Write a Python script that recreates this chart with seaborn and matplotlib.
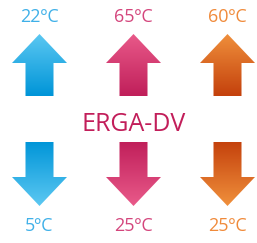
import numpy as np
import matplotlib.pyplot as plt
import seaborn as sns
from matplotlib.patches import Polygon
from matplotlib.colors import LinearSegmentedColormap

# data
circuits = ['cold', 'heating', 'hot water']
temp_out = [22, 65, 60]    # upper arrows
temp_in = [5, 25, 25]      # lower arrows
title = 'ERGA-DV'

# colours (light end, dark end) and text colour per circuit
grad = [('#5cc8f2', '#0095d8'), ('#e95a8a', '#c01f5a'), ('#f0903c', '#c4410c')]
text_col = ['#3fb0e8', '#d4457c', '#f08a3a']

sns.set_theme(style='white')
plt.rcParams['font.family'] = ['Open Sans', 'DejaVu Sans']

fig = plt.figure(figsize=(2.57, 2.43), dpi=100)
ax = fig.add_axes([0, 0, 1, 1])
ax.set_xlim(0, 257)
ax.set_ylim(243, 0)
ax.axis('off')

x0, dx = 39.5, 94
hw, sw = 27.5, 14  # head half width, shaft half width


def arrow(cx, tip, base, end, c_light, c_dark):
    pts = [(cx, tip), (cx + hw, base), (cx + sw, base), (cx + sw, end),
           (cx - sw, end), (cx - sw, base), (cx - hw, base)]
    poly = Polygon(pts, closed=True, facecolor='none', edgecolor='none')
    ax.add_patch(poly)
    cmap = LinearSegmentedColormap.from_list('g', [c_light, c_dark])
    lo, hi = min(tip, end), max(tip, end)
    g = np.linspace(0, 1, 100).reshape(-1, 1)
    if tip > end:
        g = g[::-1]
    im = ax.imshow(g, cmap=cmap, extent=(cx - hw, cx + hw, hi, lo),
                   aspect='auto', interpolation='bilinear')
    im.set_clip_path(poly)


for i in range(len(circuits)):
    cx = x0 + i * dx
    cl, cd = grad[i]
    # upper arrow: light at tip
    arrow(cx, 34, 63, 96, cl, cd)
    # lower arrow: dark at top, light at tip
    arrow(cx, 206, 177, 142, cl, cd)
    ax.text(cx, 17, f'{temp_out[i]}ºC', color=text_col[i], fontsize=13,
            ha='center', va='center')
    ax.text(cx, 226, f'{temp_in[i]}ºC', color=text_col[i], fontsize=13,
            ha='center', va='center')

ax.text(x0 + dx, 124, title, color='#c21e5a', fontsize=18,
        ha='center', va='center')

ax.set_xlim(0, 257)
ax.set_ylim(243, 0)
fig.savefig('out.png', dpi=100)
